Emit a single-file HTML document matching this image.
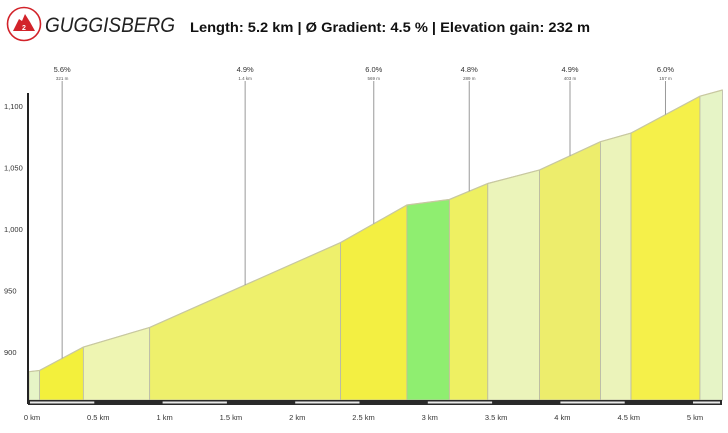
<!DOCTYPE html>
<html><head><meta charset="utf-8"><style>
body{margin:0;width:728px;height:428px;background:#fff;overflow:hidden;font-family:"Liberation Sans",sans-serif}
</style></head><body>
<svg width="728" height="428">
<g>
<circle cx="24" cy="24" r="16.5" fill="none" stroke="#d2232a" stroke-width="1.6"/>
<path d="M13 31 L19 19 L22 21 L25 14 L30 22 L35 31 Z" fill="#d2232a"/>
<text x="24" y="30" font-size="7" fill="#fff" text-anchor="middle" font-weight="bold">2</text>
<text x="45" y="32" font-size="21" font-style="italic" fill="#222" textLength="130" lengthAdjust="spacingAndGlyphs">GUGGISBERG</text>
<text x="190" y="32" font-size="13.5" font-weight="bold" fill="#111" textLength="400" lengthAdjust="spacingAndGlyphs">Length: 5.2 km  |  Ø Gradient: 4.5 %  |  Elevation gain: 232 m</text>
</g>
<g id="plot"></g>
</svg>
<script>
const kms=[0,0.08,0.41,0.91,2.35,2.85,3.17,3.46,3.85,4.31,4.54,5.06,5.23];
const elev=[884,885,904,920,989,1019.5,1024,1037,1048,1071,1078,1108,1113];
const segColors=["#e6f4c6","#f3f03c","#eef5b2","#eef06c","#f3ef42","#8fee70","#eef062","#ebf4ba","#eded6c","#ebf3ba","#f5f04a","#e6f4c6"];
const annKm=[0.25,1.63,2.60,3.32,4.08,4.80];
const annPct=["5.6%","4.9%","6.0%","4.8%","4.9%","6.0%"];
const annLen=["321 m","1.4 km","569 m","289 m","403 m","157 m"];
const yTicks=[900,950,1000,1050,1100];
const xTicks=[0,0.5,1,1.5,2,2.5,3,3.5,4,4.5,5];
const xTickLabels=["0 km","0.5 km","1 km","1.5 km","2 km","2.5 km","3 km","3.5 km","4 km","4.5 km","5 km"];
const X=k=>29+k*132.6, Y=e=>352-(e-900)*1.23, BASE=400;
const g=document.getElementById('plot'),NS="http://www.w3.org/2000/svg";
function mk(t,a){const e=document.createElementNS(NS,t);for(const k in a)e.setAttribute(k,a[k]);g.appendChild(e);return e;}
function elevAt(k){for(let i=0;i<kms.length-1;i++){if(k<=kms[i+1]){return elev[i]+(elev[i+1]-elev[i])*(k-kms[i])/(kms[i+1]-kms[i]);}}return elev[elev.length-1];}
for(let i=0;i<kms.length-1;i++){
 const x1=Math.max(X(kms[i]),28),x2=X(kms[i+1]);
 const p=mk('polygon',{points:`${x1},${BASE} ${x1},${Y(elev[i])} ${x2},${Y(elev[i+1])} ${x2},${BASE}`,fill:segColors[i],stroke:"#b8b8a8","stroke-width":"0.8"});
 
 
}
const ol=mk('polyline',{points:kms.map((k,i)=>`${Math.max(X(k),28)},${Y(elev[i])}`).join(' '),fill:"none",stroke:"#c8c8a0","stroke-width":"1.2"});


annKm.forEach((k,i)=>{
 const x=X(k);
 const l=mk('line',{x1:x,x2:x,y1:81,y2:Y(elevAt(k)),stroke:"#999","stroke-width":"1"});
 
 
 const t=mk('text',{x:x,y:72,"font-size":"7.5","text-anchor":"middle",fill:"#333"});t.textContent=annPct[i];
 
 
 const t2=mk('text',{x:x,y:80,"font-size":"4.5","text-anchor":"middle",fill:"#555"});t2.textContent=annLen[i];
 
 
});
const ya=mk('line',{x1:28,x2:28,y1:93,y2:404,stroke:"#222","stroke-width":"2"});


yTicks.forEach(v=>{
 const t=mk('text',{x:4,y:Y(v)+3,"font-size":"7.5",fill:"#333"});t.textContent=v.toLocaleString('en-US');
 
 
});
const bar=mk('rect',{x:28,y:400,width:694,height:5,fill:"#2a2a2a"});


for(let i=0;i<xTicks.length;i+=2){
 const x1=X(xTicks[i])+1,x2=Math.min(X(xTicks[i]+0.5),721)-1;
 const r=mk('rect',{x:x1,y:401.5,width:x2-x1,height:2,fill:"#e8e8e8"});
 
 
}
xTicks.forEach((v,i)=>{
 const t=mk('text',{x:X(v)+3,y:420,"font-size":"7.5","text-anchor":"middle",fill:"#333"});t.textContent=xTickLabels[i];
 
 
});
</script>
</body></html>
